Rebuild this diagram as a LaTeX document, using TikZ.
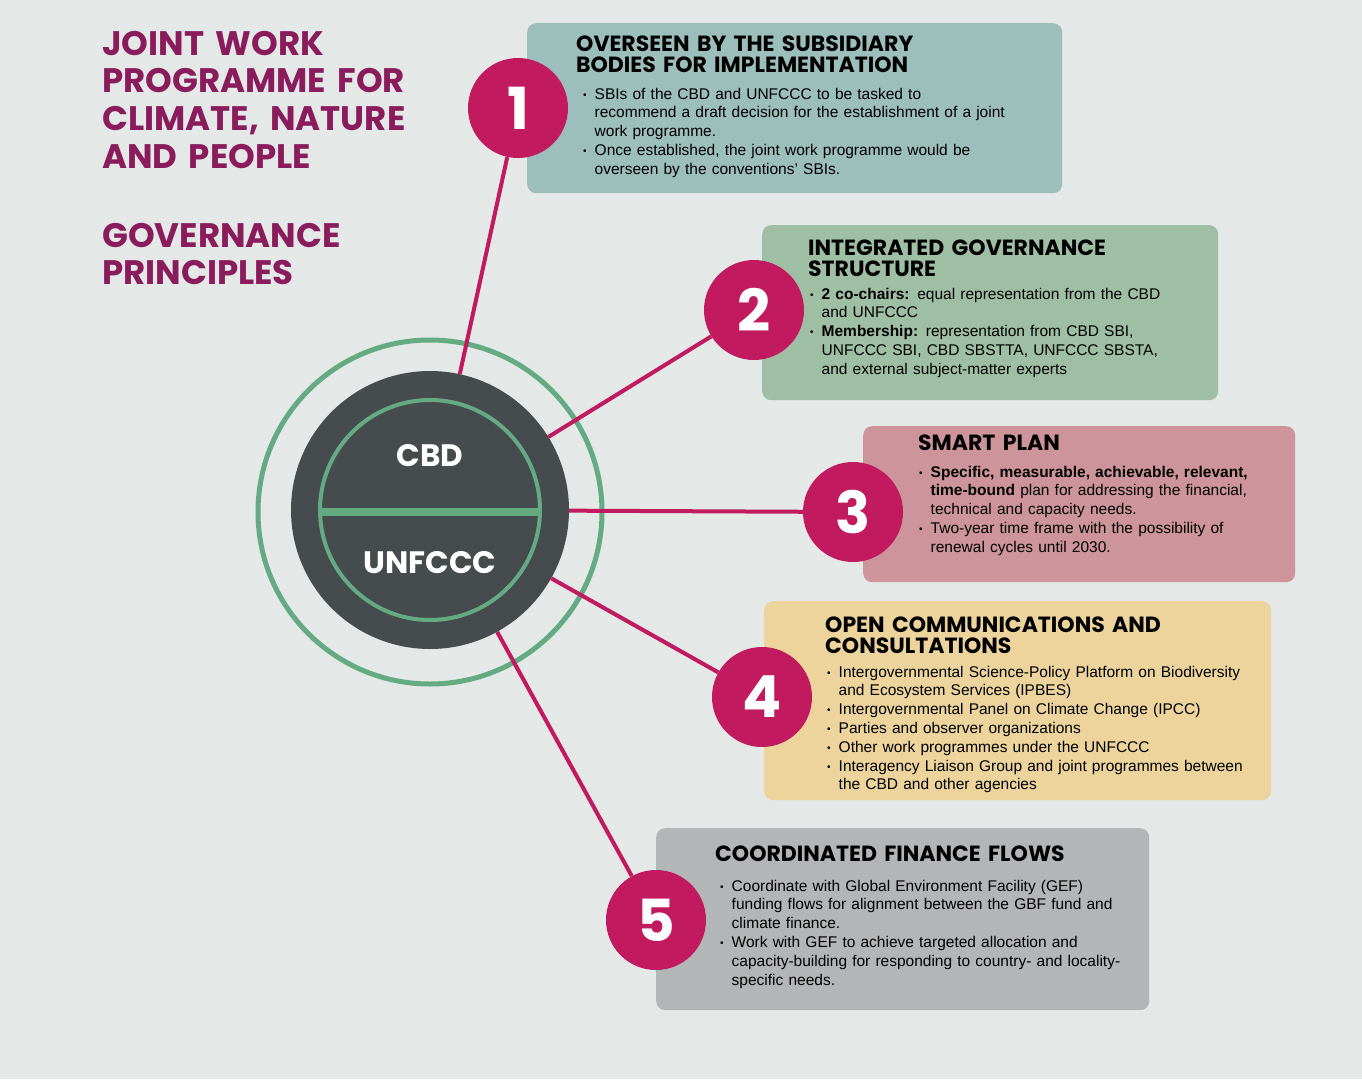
\documentclass[tikz,border=0pt]{standalone}
\usepackage{fontspec}
\setmainfont{Liberation Sans}
\newfontfamily\headfont{Poppins}
\definecolor{bgc}{HTML}{E4E8E6}
\definecolor{tealbox}{HTML}{9CBFBB}
\definecolor{greenbox}{HTML}{9FBFA5}
\definecolor{pinkbox}{HTML}{CD959B}
\definecolor{yellowbox}{HTML}{EDD49C}
\definecolor{greybox}{HTML}{B3B6B6}
\definecolor{magenta}{HTML}{C21A5F}
\definecolor{hubdark}{HTML}{464C4E}
\definecolor{ringgreen}{HTML}{64AA82}
\definecolor{titlepurple}{HTML}{8A1C5E}
\newcommand\bulmark{\llap{\makebox[11.5pt][l]{\raisebox{1pt}{\fontsize{10}{10}\selectfont•}}}}
\newcommand\blf{\leftskip=11.5pt\noindent\bulmark}
\newcommand\bli{\par\noindent\bulmark}
\tikzset{
  box/.style={rounded corners=9pt, anchor=north west, inner sep=0pt, draw=none},
  numc/.style={circle, fill=magenta, minimum size=100pt, inner sep=0pt, text=white,
    font=\headfont\bfseries\fontsize{58}{58}\selectfont},
  link/.style={draw=magenta, line width=4pt},
  hd/.style={anchor=base west, inner sep=0pt, align=left, text width=480pt,
    font=\headfont\bfseries\fontsize{22}{21}\selectfont},
  bd/.style={anchor=base west, inner sep=0pt, align=left, text width=480pt,
    font=\fontsize{15.5}{18.8}\selectfont},
  ttl/.style={anchor=base west, inner sep=0pt, align=left, text width=400pt, text=titlepurple,
    font=\headfont\bfseries\fontsize{34}{37.7}\selectfont}
}
\begin{document}
\begin{tikzpicture}[x=1pt,y=-1pt]
\useasboundingbox (0,0) rectangle (1362,1079);
\fill[bgc] (0,0) rectangle (1362,1079);

% boxes
\node[box, fill=tealbox, minimum width=535pt, minimum height=170pt] (b1) at (527,23) {};
\node[box, fill=greenbox, minimum width=456pt, minimum height=175pt] (b2) at (762,225) {};
\node[box, fill=pinkbox, minimum width=432pt, minimum height=156pt] (b3) at (863,426) {};
\node[box, fill=yellowbox, minimum width=507pt, minimum height=199pt] (b4) at (764,601) {};
\node[box, fill=greybox, minimum width=493pt, minimum height=182pt] (b5) at (656,828) {};

% title
\node[ttl] (title) at (102,55) {JOINT WORK\\PROGRAMME FOR\\CLIMATE, NATURE\\AND PEOPLE};
\node[ttl] (subtitle) at (102,247) {GOVERNANCE\\PRINCIPLES};

% outer ring
\draw[ringgreen, line width=5pt] (430,512) circle (172);

% hub
\node[circle, fill=hubdark, minimum size=278pt, inner sep=0pt] (hub) at (430,510) {};
\draw[ringgreen, line width=4pt] (hub.center) circle (110);
\draw[ringgreen, line width=8pt] (320,512) -- (540,512);
\node[text=white, font=\headfont\bfseries\fontsize{31}{31}\selectfont, inner sep=0pt] (cbd) at (430,456) {CBD};
\node[text=white, font=\headfont\bfseries\fontsize{31}{31}\selectfont, inner sep=0pt] (unf) at (430,563) {UNFCCC};

% number circles
\node[numc] (n1) at (518,108) {1};
\node[numc] (n2) at (754,310) {2};
\node[numc] (n3) at (853,512) {3};
\node[numc] (n4) at (762,697) {4};
\node[numc] (n5) at (656,920) {5};

% links
\draw[link] (hub) -- (n1);
\draw[link] (hub) -- (n2);
\draw[link] (hub) -- (n3);
\draw[link] (hub) -- (n4);
\draw[link] (hub) -- (n5);

% box 1
\node[hd] (h1) at (576,51) {OVERSEEN BY THE SUBSIDIARY\\BODIES FOR IMPLEMENTATION};
\node[bd] (t1) at (583,99) {\blf SBIs of the CBD and UNFCCC to be tasked to\\recommend a draft decision for the establishment of a joint\\work programme.\bli Once established, the joint work programme would be\\overseen by the conventions’ SBIs.\par};

% box 2
\node[hd] (h2) at (808,255) {INTEGRATED GOVERNANCE\\STRUCTURE};
\node[bd] (t2) at (810,299) {\blf\textbf{2 co-chairs:} equal representation from the CBD\\and UNFCCC\bli\textbf{Membership:} representation from CBD SBI,\\UNFCCC SBI, CBD SBSTTA, UNFCCC SBSTA,\\and external subject-matter experts\par};

% box 3
\node[hd] (h3) at (918,450) {SMART PLAN};
\node[bd] (t3) at (919,477) {\blf\textbf{Specific, measurable, achievable, relevant,}\\\textbf{time-bound} plan for addressing the financial,\\technical and capacity needs.\bli Two-year time frame with the possibility of\\renewal cycles until 2030.\par};

% box 4
\node[hd] (h4) at (825,632) {OPEN COMMUNICATIONS AND\\CONSULTATIONS};
\node[bd] (t4) at (827,677) {\blf Intergovernmental Science-Policy Platform on Biodiversity\\and Ecosystem Services (IPBES)\bli Intergovernmental Panel on Climate Change (IPCC)\bli Parties and observer organizations\bli Other work programmes under the UNFCCC\bli Interagency Liaison Group and joint programmes between\\the CBD and other agencies\par};

% box 5
\node[hd] (h5) at (715,861) {COORDINATED FINANCE FLOWS};
\node[bd] (t5) at (720,891) {\blf Coordinate with Global Environment Facility (GEF)\\funding flows for alignment between the GBF fund and\\climate finance.\bli Work with GEF to achieve targeted allocation and\\capacity-building for responding to country- and locality-\\specific needs.\par};
\end{tikzpicture}
\end{document}
